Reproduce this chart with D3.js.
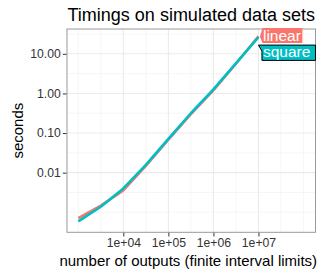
<!DOCTYPE html>
<html>
<head>
<meta charset="utf-8">
<script src="https://cdn.jsdelivr.net/npm/d3@7"></script>
<style>
  html, body { margin: 0; padding: 0; background: #fff; }
  svg { display: block; font-family: "Liberation Sans", Arial, Helvetica, sans-serif; }
</style>
</head>
<body>
<svg id="chart" width="323" height="277"></svg>
<script>
'use strict';

// number of outputs
const outputs = [1000, 3162, 10000, 31623, 100000, 316228, 1000000, 3162278, 10000000];
// seconds per method
const linearSeconds = [0.00071, 0.00148, 0.00355, 0.0148, 0.068, 0.30, 1.2, 5.6, 27.5];
const squareSeconds = [0.00059, 0.00138, 0.0040, 0.0158, 0.071, 0.316, 1.26, 5.75, 26.3];

const xTicks = [1e4, 1e5, 1e6, 1e7];
const xTickLabels = ['1e+04', '1e+05', '1e+06', '1e+07'];
const xMinor = [1e3, 3162, 31623, 316228, 3162278, 31622777, 1e8];
const yTicks = [0.01, 0.1, 1, 10];
const yTickLabels = ['0.01', '0.10', '1.00', '10.00'];
const yMinor = [0.001, 0.003162, 0.03162, 0.3162, 3.162, 31.62];

const series = [
  { name: 'linear', values: linearSeconds, color: '#F8766D' },
  { name: 'square', values: squareSeconds, color: '#00BFC4' }
];

const panel = { left: 67, right: 315.5, top: 29, bottom: 232.3 };

const svg = d3.select('#chart');

const x = d3.scaleLog()
  .domain([Math.pow(10, 2.749), Math.pow(10, 8.267)])
  .range([panel.left, panel.right]);

const y = d3.scaleLog()
  .domain([Math.pow(10, -3.505), Math.pow(10, 1.626)])
  .range([panel.bottom, panel.top]);

// grid
const grid = svg.append('g');
grid.selectAll('line.xminor')
  .data(xMinor)
  .join('line')
  .attr('x1', (d) => x(d)).attr('x2', (d) => x(d))
  .attr('y1', panel.top).attr('y2', panel.bottom)
  .attr('stroke', '#F2F2F2').attr('stroke-width', 0.7);
grid.selectAll('line.yminor')
  .data(yMinor)
  .join('line')
  .attr('y1', (d) => y(d)).attr('y2', (d) => y(d))
  .attr('x1', panel.left).attr('x2', panel.right)
  .attr('stroke', '#F2F2F2').attr('stroke-width', 0.7);
grid.selectAll('line.xmajor')
  .data(xTicks)
  .join('line')
  .attr('x1', (d) => x(d)).attr('x2', (d) => x(d))
  .attr('y1', panel.top).attr('y2', panel.bottom)
  .attr('stroke', '#EBEBEB').attr('stroke-width', 1.1);
grid.selectAll('line.ymajor')
  .data(yTicks)
  .join('line')
  .attr('y1', (d) => y(d)).attr('y2', (d) => y(d))
  .attr('x1', panel.left).attr('x2', panel.right)
  .attr('stroke', '#EBEBEB').attr('stroke-width', 1.1);

// lines
const line = d3.line()
  .x((d) => x(d[0]))
  .y((d) => y(d[1]));

svg.append('g')
  .selectAll('path')
  .data(series)
  .join('path')
  .attr('d', (s) => line(outputs.map((o, i) => [o, s.values[i]])))
  .attr('fill', 'none')
  .attr('stroke', (s) => s.color)
  .attr('stroke-width', 2.6)
  .attr('stroke-linejoin', 'round');

// panel border
svg.append('rect')
  .attr('x', panel.left).attr('y', panel.top)
  .attr('width', panel.right - panel.left)
  .attr('height', panel.bottom - panel.top)
  .attr('fill', 'none')
  .attr('stroke', '#999')
  .attr('stroke-width', 1);

// axes
const xAxis = d3.axisBottom(x)
  .tickValues(xTicks)
  .tickFormat((d, i) => xTickLabels[i])
  .tickSize(3.7)
  .tickPadding(2);
const yAxis = d3.axisLeft(y)
  .tickValues(yTicks)
  .tickFormat((d, i) => yTickLabels[i])
  .tickSize(3.7)
  .tickPadding(2);

const gx = svg.append('g')
  .attr('transform', `translate(0,${panel.bottom + 0.5})`)
  .call(xAxis);
const gy = svg.append('g')
  .attr('transform', `translate(${panel.left - 0.5},0)`)
  .call(yAxis);

[gx, gy].forEach((g) => {
  g.select('.domain').remove();
  g.selectAll('.tick line').attr('stroke', '#333');
  g.selectAll('.tick text')
    .attr('fill', '#333')
    .style('font-size', '12.2px')
    .style('font-family', '"Liberation Sans", Arial, sans-serif');
});

// titles
svg.append('text')
  .attr('x', (panel.left + panel.right) / 2)
  .attr('y', 21)
  .attr('text-anchor', 'middle')
  .style('font-size', '18px')
  .text('Timings on simulated data sets');

svg.append('text')
  .attr('x', (panel.left + panel.right) / 2 - 3)
  .attr('y', 266)
  .attr('text-anchor', 'middle')
  .style('font-size', '15px')
  .text('number of outputs (finite interval limits)');

svg.append('text')
  .attr('transform', `translate(23,${(panel.top + panel.bottom) / 2}) rotate(-90)`)
  .attr('text-anchor', 'middle')
  .style('font-size', '15px')
  .text('seconds');

// direct labels at the end of each line
const last = outputs.length - 1;
const endX = x(outputs[last]);
const linY = y(linearSeconds[last]);
const tipX = endX + 1.5;
const labels = svg.append('g').style('font-size', '15.5px');

const linText = labels.append('text')
  .attr('x', tipX + 3)
  .attr('y', linY + 5)
  .attr('fill', '#fff')
  .text('linear');
const linW = linText.node().getComputedTextLength();
const linTop = linY - 8.3;
const linBottom = linY + 6.7;
labels.insert('polygon', 'text')
  .attr('points', [
    [tipX, linY],
    [tipX + 2.5, linTop],
    [tipX + linW + 4.5, linTop],
    [tipX + linW + 4.5, linBottom],
    [tipX + 2.5, linBottom]
  ].join(' '))
  .attr('fill', '#F8766D');

const sqTop = linBottom + 2;
const sqBottom = sqTop + 15.3;
labels.append('polygon')
  .attr('points', [
    [tipX - 1.5, sqTop],
    [panel.right, sqTop],
    [panel.right, sqBottom],
    [tipX + 2, sqBottom],
    [tipX + 2, sqTop + 6]
  ].join(' '))
  .attr('fill', '#00BFC4')
  .attr('stroke', '#000')
  .attr('stroke-width', 1);
labels.append('text')
  .attr('x', tipX + 3)
  .attr('y', sqBottom - 3)
  .attr('fill', '#fff')
  .text('square');
</script>
</body>
</html>
